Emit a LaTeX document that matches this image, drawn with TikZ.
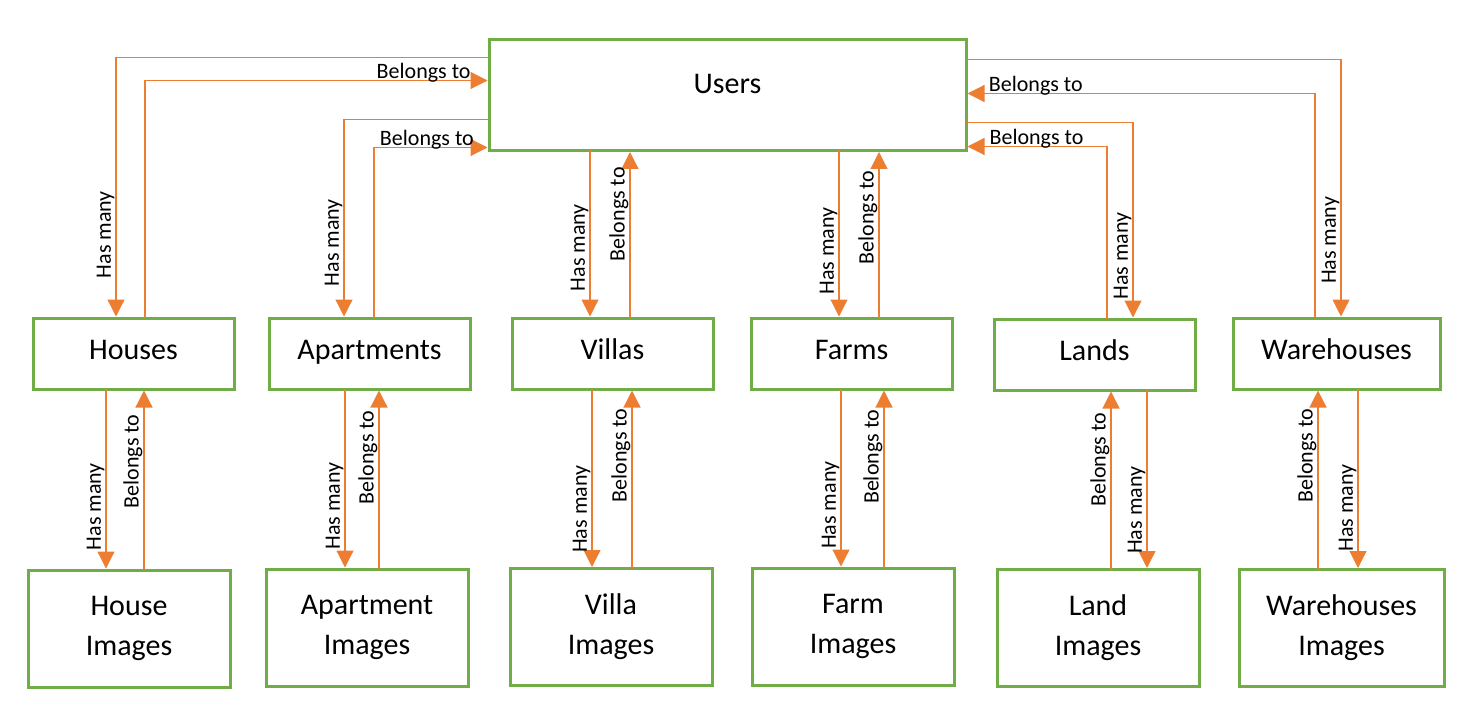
\documentclass[tikz,border=0pt]{standalone}
\usepackage{fontspec}
\setmainfont{Carlito}
\usetikzlibrary{arrows.meta}
\definecolor{relorange}{HTML}{ED7D31}
\definecolor{tblgreen}{HTML}{70AD47}
\begin{document}
\begin{tikzpicture}[x=0.5pt, y=-0.5pt,
tbl/.style={draw=tblgreen, line width=1.5pt, outer sep=0pt, inner ysep=0pt,
  minimum width=100.5pt, text height=20.5pt, text depth=15pt,
  font=\fontsize{15}{20}\selectfont},
imgtbl/.style={draw=tblgreen, line width=1.5pt, outer sep=0pt, minimum width=101pt,
  minimum height=58.5pt, align=center, font=\fontsize{15}{20}\selectfont},
rel/.style={draw=relorange, line width=0.6pt, shorten >=0.75pt,
  -{Triangle[length=8.5pt,width=8.5pt]}},
lbl/.style={text=black, font=\fontsize{11}{13}\selectfont, inner sep=0.5pt},
hlbl/.style={lbl, anchor=base, yshift=1pt},
vlbl/.style={lbl, anchor=south, rotate=90}]
\useasboundingbox (0,0) rectangle (1476,727);
\node[tbl, minimum width=238.5pt, text height=27pt, text depth=28.5pt] (users) at (727.5,95) {Users};
\node[tbl] (houses) at (133.5,353.5) {Houses};
\node[tbl] (apartments) at (369.5,353.5) {Apartments};
\node[tbl] (villas) at (612.5,353.5) {Villas};
\node[tbl] (farms) at (851.5,353.5) {Farms};
\node[tbl] (lands) at (1094.5,354.5) {Lands};
\node[tbl, minimum width=103.5pt] (warehouses) at (1336.5,353.5) {Warehouses};
\node[imgtbl] (houseimg) at (129,628.5) {House\\Images};
\node[imgtbl] (aptimg) at (367,627.5) {Apartment\\Images};
\node[imgtbl] (villaimg) at (611,627) {Villa\\Images};
\node[imgtbl] (farmimg) at (853,626.5) {Farm\\Images};
\node[imgtbl] (landimg) at (1098,628) {Land\\Images};
\node[imgtbl, minimum width=102.5pt] (whimg) at (1341.5,628) {Warehouses\\Images};
\draw[rel] ([yshift=-9pt]users.north west) -| ([xshift=41.5pt]houses.north west)
  node[vlbl, pos=0.84] {Has many};
\draw[rel] ([xshift=56pt]houses.north west) |- ([yshift=-20.5pt]users.north west)
  node[hlbl, pos=0.905] {Belongs to};
\draw[rel] ([yshift=-40pt]users.north west) -| ([xshift=37.5pt]apartments.north west)
  node[vlbl, pos=0.81] {Has many};
\draw[rel] ([xshift=52.5pt]apartments.north west) |- ([yshift=-54pt]users.north west)
  node[hlbl, pos=0.73] {Belongs to};
\draw[rel] ([xshift=50.5pt]users.south west) -- ([xshift=39pt]villas.north west)
  node[vlbl, pos=0.58] {Has many};
\draw[rel] ([xshift=59pt]villas.north west) -- ([xshift=70.5pt]users.south west)
  node[vlbl, pos=0.62] {Belongs to};
\draw[rel] ([xshift=175pt]users.south west) -- ([xshift=44pt]farms.north west)
  node[vlbl, pos=0.6] {Has many};
\draw[rel] ([xshift=64pt]farms.north west) -- ([xshift=195pt]users.south west)
  node[vlbl, pos=0.6] {Belongs to};
\draw[rel] ([yshift=-41.5pt]users.north east) -| ([xshift=69.5pt]lands.north west)
  node[vlbl, pos=0.84] {Has many};
\draw[rel] ([xshift=56.5pt]lands.north west) |- ([yshift=-53.5pt]users.north east)
  node[hlbl, pos=0.75] {Belongs to};
\draw[rel] ([yshift=-10pt]users.north east) -| ([xshift=54pt]warehouses.north west)
  node[vlbl, pos=0.85] {Has many};
\draw[rel] ([xshift=41pt]warehouses.north west) |- ([yshift=-27pt]users.north east)
  node[hlbl, pos=0.9] {Belongs to};
\draw[rel] ([xshift=36.5pt]houses.south west) -- ([xshift=39pt]houseimg.north west)
  node[vlbl, pos=0.65] {Has many};
\draw[rel] ([xshift=58pt]houseimg.north west) -- ([xshift=55.5pt]houses.south west)
  node[vlbl, pos=0.6] {Belongs to};
\draw[rel] ([xshift=38pt]apartments.south west) -- ([xshift=39.5pt]aptimg.north west)
  node[vlbl, pos=0.65] {Has many};
\draw[rel] ([xshift=56.5pt]aptimg.north west) -- ([xshift=55pt]apartments.south west)
  node[vlbl, pos=0.62] {Belongs to};
\draw[rel] ([xshift=40pt]villas.south west) -- ([xshift=41pt]villaimg.north west)
  node[vlbl, pos=0.67] {Has many};
\draw[rel] ([xshift=61pt]villaimg.north west) -- ([xshift=60pt]villas.south west)
  node[vlbl, pos=0.63] {Belongs to};
\draw[rel] ([xshift=45pt]farms.south west) -- ([xshift=44.5pt]farmimg.north west)
  node[vlbl, pos=0.65] {Has many};
\draw[rel] ([xshift=66pt]farmimg.north west) -- ([xshift=66.5pt]farms.south west)
  node[vlbl, pos=0.62] {Belongs to};
\draw[rel] ([xshift=57pt]landimg.north west) -- ([xshift=58.5pt]lands.south west)
  node[vlbl, pos=0.61] {Belongs to};
\draw[rel] ([xshift=76.5pt]lands.south west) -- ([xshift=75pt]landimg.north west)
  node[vlbl, pos=0.67] {Has many};
\draw[rel] ([xshift=39.5pt]whimg.north west) -- ([xshift=42.5pt]warehouses.south west)
  node[vlbl, pos=0.63] {Belongs to};
\draw[rel] ([xshift=62.5pt]warehouses.south west) -- ([xshift=59.5pt]whimg.north west)
  node[vlbl, pos=0.66] {Has many};
\end{tikzpicture}
\end{document}
